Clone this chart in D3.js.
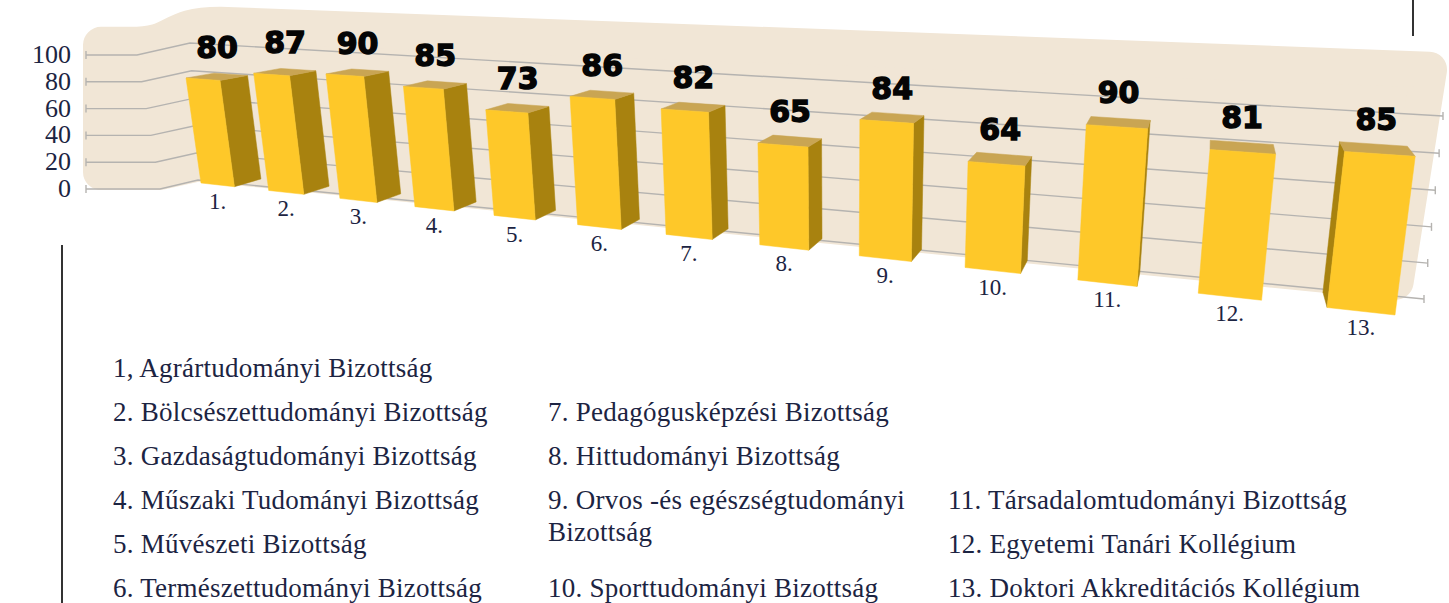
<!DOCTYPE html>
<html>
<head>
<meta charset="utf-8">
<script src="https://cdn.jsdelivr.net/npm/d3@7"></script>
<style>
  html, body { margin: 0; padding: 0; background: #ffffff; }
  svg { display: block; }
</style>
</head>
<body>
<div id="chart"></div>
<script>
//### DATA ###
const categories = [ '1.', '2.', '3.', '4.', '5.', '6.', '7.', '8.', '9.', '10.', '11.', '12.', '13.' ];
const values = [ 80, 87, 90, 85, 73, 86, 82, 65, 84, 64, 90, 81, 85 ];
const yTicks = [ 0, 20, 40, 60, 80, 100 ];

//>>> Legend columns (row index = line in the column, null = empty row)
const legendCol1 = [
  '1, Agrártudományi Bizottság',
  '2. Bölcsészettudományi Bizottság',
  '3. Gazdaságtudományi Bizottság',
  '4. Műszaki Tudományi Bizottság',
  '5. Művészeti Bizottság',
  '6. Természettudományi Bizottság'
];
const legendCol2 = [
  null,
  '7. Pedagógusképzési Bizottság',
  '8. Hittudományi Bizottság',
  '9. Orvos -és egészségtudományi|Bizottság',
  null,
  '10. Sporttudományi Bizottság'
];
const legendCol3 = [
  null, null, null,
  '11. Társadalomtudományi Bizottság',
  '12. Egyetemi Tanári Kollégium',
  '13. Doktori Akkreditációs Kollégium'
];


//### LAYOUT & STYLE ###
const width = 1449;
const height = 603;
const navy = '#1c2442';
const beige = '#f1e6d6';
const gridGrey = '#b5b3b0';
const barFront = '#fec829';
const barSide = '#a8820f';
const barTop = '#c9a553';


//### PERSPECTIVE HELPERS ###
//>>> Solve a 4 point homography (flat chart plane -> screen)
function solveHomography ( src, dst ) {
  const A = [], b = [];
  src.forEach( ( [ x, y ], i ) => {
    const [ X, Y ] = dst[ i ];
    A.push( [ x, y, 1, 0, 0, 0, -x * X, -y * X ] ); b.push( X );
    A.push( [ 0, 0, 0, x, y, 1, -x * Y, -y * Y ] ); b.push( Y );
  } );
  const n = 8;
  for ( let c = 0; c < n; c++ ) {
    let p = c;
    for ( let r = c + 1; r < n; r++ ) if ( Math.abs( A[ r ][ c ] ) > Math.abs( A[ p ][ c ] ) ) p = r;
    [ A[ c ], A[ p ] ] = [ A[ p ], A[ c ] ];
    [ b[ c ], b[ p ] ] = [ b[ p ], b[ c ] ];
    for ( let r = c + 1; r < n; r++ ) {
      const f = A[ r ][ c ] / A[ c ][ c ];
      for ( let k = c; k < n; k++ ) A[ r ][ k ] -= f * A[ c ][ k ];
      b[ r ] -= f * b[ c ];
    }
  }
  const h = new Array( n );
  for ( let r = n - 1; r >= 0; r-- ) {
    let s = b[ r ];
    for ( let k = r + 1; k < n; k++ ) s -= A[ r ][ k ] * h[ k ];
    h[ r ] = s / A[ r ][ r ];
  }
  return [ ...h, 1 ];
}

function homog ( h, u, v ) {
  return [ h[ 0 ] * u + h[ 1 ] * v + h[ 2 ], h[ 3 ] * u + h[ 4 ] * v + h[ 5 ], h[ 6 ] * u + h[ 7 ] * v + h[ 8 ] ];
}


//### SCALES ###
const planeWidth = 1300;

const xScale = d3.scaleBand()
  .domain( categories )
  .range( [ 0, planeWidth ] )
  .paddingInner( 0.5 )
  .paddingOuter( 0 );

const yScale = d3.scaleLinear()
  .domain( [ 0, 100 ] )
  .range( [ 0, 100 ] );

//>>> Flat left axis (not warped)
const yAxisScale = d3.scaleLinear()
  .domain( [ 0, 100 ] )
  .range( [ 189, 55 ] );

//>>> x of the fold between flat tick line and the side wall
const foldScale = d3.scaleLinear()
  .domain( [ 0, 100 ] )
  .range( [ 160, 137 ] );

//>>> Front plane of the bars (calibrated on the picture)
const Hf = solveHomography(
  [ [ 0, 0 ], [ 0, 80 ], [ planeWidth, 0 ], [ planeWidth, 80 ] ],
  [ [ 201, 183 ], [ 186, 78 ], [ 1395, 315 ], [ 1414, 166 ] ]
);

//>>> Back wall plane
const Hw = solveHomography(
  [ [ 0, 0 ], [ 0, 100 ], [ planeWidth, 0 ], [ planeWidth, 100 ] ],
  [ [ 198, 180 ], [ 190, 43 ], [ 1424, 299 ], [ 1443, 116 ] ]
);

//>>> Depth direction (vanishing point) and amount
const vanish = [ 1215, -100 ];
const depthK = 0.033 * homog( Hf, planeWidth / 2, 50 )[ 2 ];

function project ( u, v, d ) {
  const [ X, Y, W ] = homog( Hf, u, v );
  const k = d * depthK;
  return [ ( X + k * vanish[ 0 ] ) / ( W + k ), ( Y + k * vanish[ 1 ] ) / ( W + k ) ];
}

function wallPt ( u, v ) {
  const [ X, Y, W ] = homog( Hw, u, v );
  return [ X / W, Y / W ];
}


//### SVG ###
const svg = d3.select( '#chart' )
  .append( 'svg' )
  .attr( 'width', width )
  .attr( 'height', height );


//_____ BEIGE WALL BACKGROUND _____
const r = 18;
const pTL = [ 83, yAxisScale( 121 ) ];
const pFoldTop = [ foldScale( 121 ) - 2, yAxisScale( 121 ) ];
const pWallTL = wallPt( 45, 127 );
const pWallTR = wallPt( 1298, 134 );
const pWallBR = wallPt( 1292, -1 );
const pWallBL = wallPt( 0, -1 );
const pFoldBot = [ foldScale( 0 ), yAxisScale( 0 ) + 1 ];
const pBL = [ 83, yAxisScale( 0 ) + 1 ];

const bgPath = d3.path();
bgPath.moveTo( pTL[ 0 ] + r, pTL[ 1 ] + r );
bgPath.lineTo( pFoldTop[ 0 ], pFoldTop[ 1 ] + r );
bgPath.bezierCurveTo(
  pFoldTop[ 0 ] + 50, pFoldTop[ 1 ] + r,
  pWallTL[ 0 ] - 55, pWallTL[ 1 ] + r,
  pWallTL[ 0 ], pWallTL[ 1 ] + r
);
bgPath.lineTo( pWallTR[ 0 ] - r, pWallTR[ 1 ] + r );
bgPath.lineTo( pWallBR[ 0 ] - r, pWallBR[ 1 ] - r );
bgPath.lineTo( pWallBL[ 0 ], pWallBL[ 1 ] - r );
bgPath.lineTo( pFoldBot[ 0 ], pFoldBot[ 1 ] - r );
bgPath.lineTo( pBL[ 0 ] + r, pBL[ 1 ] - r );
bgPath.closePath();

svg.append( 'path' )
  .attr( 'd', bgPath.toString() )
  .attr( 'fill', beige )
  .attr( 'stroke', beige )
  .attr( 'stroke-width', r * 2 )
  .attr( 'stroke-linejoin', 'round' );


//_____ GRIDLINES _____
const gridLine = d3.line();
const grid = svg.append( 'g' ).attr( 'class', 'grid' );

grid.selectAll( 'path.gridline' )
  .data( yTicks )
  .enter().append( 'path' )
  .attr( 'class', 'gridline' )
  .attr( 'd', v => gridLine( [
    [ 86, yAxisScale( v ) ],
    [ foldScale( v ), yAxisScale( v ) ],
    wallPt( 0, yScale( v ) ),
    wallPt( planeWidth, yScale( v ) )
  ] ) )
  .attr( 'fill', 'none' )
  .attr( 'stroke', gridGrey )
  .attr( 'stroke-width', 1.4 );

//>>> End ticks
grid.selectAll( 'line.tick-left' )
  .data( yTicks )
  .enter().append( 'line' )
  .attr( 'x1', 86 ).attr( 'x2', 86 )
  .attr( 'y1', v => yAxisScale( v ) - 4 )
  .attr( 'y2', v => yAxisScale( v ) + 4 )
  .attr( 'stroke', gridGrey )
  .attr( 'stroke-width', 1.4 );

grid.selectAll( 'line.tick-right' )
  .data( yTicks )
  .enter().append( 'line' )
  .attr( 'x1', v => wallPt( planeWidth, yScale( v ) )[ 0 ] )
  .attr( 'x2', v => wallPt( planeWidth, yScale( v ) )[ 0 ] )
  .attr( 'y1', v => wallPt( planeWidth, yScale( v ) )[ 1 ] - 4 )
  .attr( 'y2', v => wallPt( planeWidth, yScale( v ) )[ 1 ] + 4 )
  .attr( 'stroke', gridGrey )
  .attr( 'stroke-width', 1.4 );


//_____ Y AXIS LABELS _____
svg.append( 'g' )
  .attr( 'id', 'y-axis' )
  .selectAll( 'text' )
  .data( yTicks )
  .enter().append( 'text' )
  .attr( 'x', 71 )
  .attr( 'y', v => yAxisScale( v ) + 8 )
  .attr( 'text-anchor', 'end' )
  .style( 'font-family', '"Liberation Serif", serif' )
  .style( 'font-size', '26px' )
  .style( 'fill', navy )
  .text( v => v );


//_____ BARS _____
const bars = categories.map( ( c, i ) => {
  const uL = xScale( c );
  const uR = uL + xScale.bandwidth();
  const v = yScale( values[ i ] );
  return { c, value: values[ i ], uL, uR, v };
} );

const polyLine = d3.line();
const barG = svg.append( 'g' ).attr( 'id', 'bars' );

bars.forEach( b => {
  const g = barG.append( 'g' ).attr( 'class', 'bar' );

  //>>> Side face (the one facing the viewer)
  const rightVisible = project( b.uR, b.v, 1 )[ 0 ] > project( b.uR, b.v, 0 )[ 0 ];
  const leftVisible = project( b.uL, b.v, 1 )[ 0 ] < project( b.uL, b.v, 0 )[ 0 ];
  const uS = rightVisible ? b.uR : b.uL;
  if ( rightVisible || leftVisible ) {
    g.append( 'path' )
      .attr( 'd', polyLine( [ project( uS, 0, 0 ), project( uS, b.v, 0 ), project( uS, b.v, 1 ), project( uS, 0, 1 ) ] ) + 'Z' )
      .attr( 'fill', barSide )
      .attr( 'stroke', barSide )
      .attr( 'stroke-width', 0.5 );
  }

  //>>> Top face
  g.append( 'path' )
    .attr( 'd', polyLine( [ project( b.uL, b.v, 0 ), project( b.uR, b.v, 0 ), project( b.uR, b.v, 1 ), project( b.uL, b.v, 1 ) ] ) + 'Z' )
    .attr( 'fill', barTop )
    .attr( 'stroke', barTop )
    .attr( 'stroke-width', 0.5 );

  //>>> Front face
  g.append( 'path' )
    .attr( 'd', polyLine( [ project( b.uL, 0, 0 ), project( b.uR, 0, 0 ), project( b.uR, b.v, 0 ), project( b.uL, b.v, 0 ) ] ) + 'Z' )
    .attr( 'fill', barFront )
    .attr( 'stroke', barFront )
    .attr( 'stroke-width', 0.5 );
} );


//_____ CATEGORY LABELS _____
svg.append( 'g' )
  .attr( 'id', 'x-axis' )
  .selectAll( 'text' )
  .data( bars )
  .enter().append( 'text' )
  .attr( 'x', b => project( ( b.uL + b.uR ) / 2, 0, 0 )[ 0 ] )
  .attr( 'y', b => project( ( b.uL + b.uR ) / 2, 0, 0 )[ 1 ] + 24 )
  .attr( 'text-anchor', 'middle' )
  .style( 'font-family', '"Liberation Serif", serif' )
  .style( 'font-size', '23px' )
  .style( 'fill', navy )
  .text( b => b.c );


//_____ VALUE LABELS _____
svg.append( 'g' )
  .attr( 'id', 'values' )
  .selectAll( 'text' )
  .data( bars )
  .enter().append( 'text' )
  .attr( 'x', b => project( ( b.uL + b.uR ) / 2, b.v, 0.5 )[ 0 ] )
  .attr( 'y', b => project( ( b.uL + b.uR ) / 2, b.v, 0.5 )[ 1 ] - 19 )
  .attr( 'text-anchor', 'middle' )
  .style( 'font-family', '"DejaVu Sans", sans-serif' )
  .style( 'font-weight', 'bold' )
  .style( 'font-size', '30px' )
  .style( 'fill', '#050505' )
  .style( 'stroke', '#050505' )
  .style( 'stroke-width', 1.4 )
  .text( b => b.value );


//_____ FRAME LINES _____
svg.append( 'line' )
  .attr( 'x1', 62 ).attr( 'x2', 62 )
  .attr( 'y1', 245 ).attr( 'y2', height )
  .attr( 'stroke', '#333' )
  .attr( 'stroke-width', 2 );

svg.append( 'line' )
  .attr( 'x1', 1413 ).attr( 'x2', 1413 )
  .attr( 'y1', 0 ).attr( 'y2', 36 )
  .attr( 'stroke', '#333' )
  .attr( 'stroke-width', 2 );


//_____ LEGEND _____
const legendX = [ 113, 548, 948 ];
const legendRowY = d3.scaleLinear().domain( [ 0, 5 ] ).range( [ 377, 597 ] );
const legendLineGap = 32;

const legend = svg.append( 'g' ).attr( 'id', 'legend' );

[ legendCol1, legendCol2, legendCol3 ].forEach( ( col, ci ) => {
  col.forEach( ( label, ri ) => {
    if ( !label ) return;
    const t = legend.append( 'text' )
      .attr( 'x', legendX[ ci ] )
      .attr( 'y', legendRowY( ri ) )
      .style( 'font-family', '"Liberation Serif", serif' )
      .style( 'font-size', '27px' )
      .style( 'letter-spacing', '0.25px' )
      .style( 'fill', navy );
    label.split( '|' ).forEach( ( part, pi ) => {
      t.append( 'tspan' )
        .attr( 'x', legendX[ ci ] )
        .attr( 'dy', pi === 0 ? 0 : legendLineGap )
        .text( part );
    } );
  } );
} );
</script>
</body>
</html>
